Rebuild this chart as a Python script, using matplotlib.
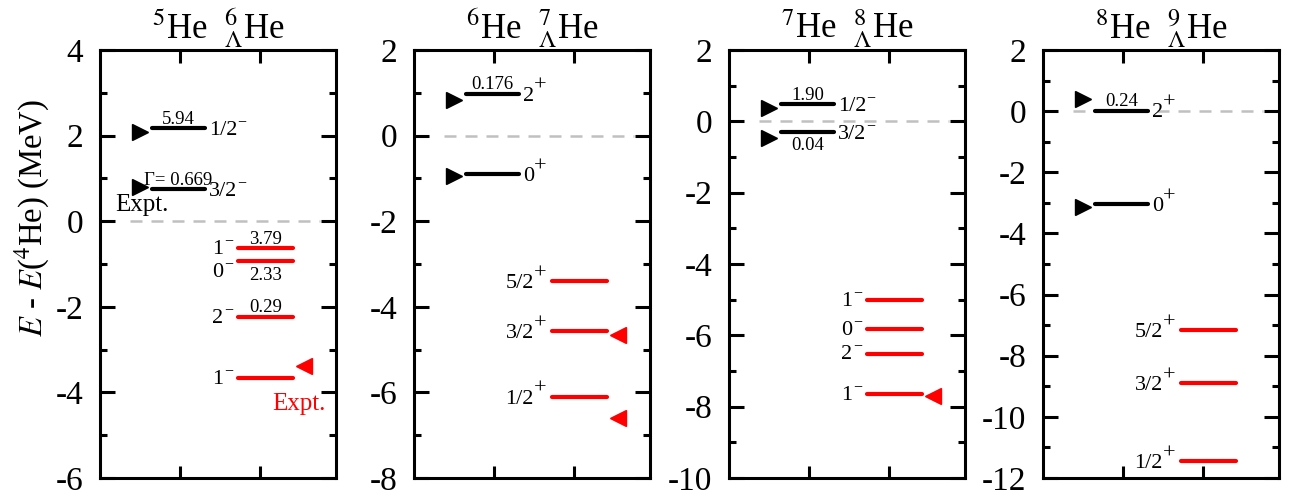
import matplotlib
matplotlib.use("Agg")
import matplotlib.pyplot as plt
from matplotlib.ticker import MultipleLocator

plt.rcParams['font.family'] = ['Liberation Serif', 'DejaVu Serif']
plt.rcParams['mathtext.fontset'] = 'stix'
plt.rcParams['axes.unicode_minus'] = False

# ---------------- data ----------------
core_names = [r"$^{5}$He", r"$^{6}$He", r"$^{7}$He", r"$^{8}$He"]
hyp_names = [r"$^{6}_{\Lambda}$He", r"$^{7}_{\Lambda}$He", r"$^{8}_{\Lambda}$He", r"$^{9}_{\Lambda}$He"]
ylims = [(-6, 4), (-8, 2), (-10, 2), (-12, 2)]

core_E = [[2.18, 0.76], [0.98, -0.90], [0.48, -0.29], [0.02, -3.05]]
core_J = [["1/2", "3/2"], ["2", "0"], ["1/2", "3/2"], ["2", "0"]]
core_P = [["-", "-"], ["+", "+"], ["-", "-"], ["+", "+"]]
core_expt = [[2.09, 0.80], [0.84, -0.94], [0.37, -0.48], [0.41, -3.12]]
core_width = [["5.94", "Γ= 0.669"], ["0.176", ""], ["1.90", "0.04"], ["0.24", ""]]
core_width_pos = [["above", "above"], ["above", ""], ["above", "below"], ["above", ""]]

hyp_E = [[-0.63, -0.94, -2.23, -3.66], [-3.40, -4.57, -6.10],
         [-5.01, -5.83, -6.51, -7.65], [-7.17, -8.90, -11.46]]
hyp_J = [["1", "0", "2", "1"], ["5/2", "3/2", "1/2"],
         ["1", "0", "2", "1"], ["5/2", "3/2", "1/2"]]
hyp_P = [["-", "-", "-", "-"], ["+", "+", "+"], ["-", "-", "-", "-"], ["+", "+", "+"]]
hyp_J_shift = [[0, -7, 0, 0], [0, 0, 0], [0, 0, 0, 0], [0, 0, 0]]
hyp_expt = [[-3.39], [-4.66, -6.60], [-7.71], []]
hyp_width = [["3.79", "2.33", "0.29", ""], ["", "", ""], ["", "", "", ""], ["", "", ""]]
hyp_width_pos = [["above", "below", "above", ""], ["", "", ""], ["", "", "", ""], ["", "", ""]]

# ---------------- layout ----------------
W, H = 1297, 497
fig = plt.figure(figsize=(W / 100, H / 100), dpi=100)
lefts = [100, 414, 729, 1043]
ax_w, ax_top, ax_bot = 236, 50, 478

BL = (0.65, 1.31)   # black level x-extent
RL = (1.72, 2.41)   # red level x-extent
RED = '#ff0000'
JFS = 16


def jlabel(ax, x, y, base, sign, side, dy):
    sfs = JFS if sign == '+' else 11.5
    sch = '+' if sign == '+' else '\u2212'
    rz = 7 if sign == '+' else 6.5
    if side == 'right':
        t = ax.annotate(base, (x, y), xytext=(0, dy), textcoords='offset points',
                        ha='left', va='baseline', fontsize=JFS)
        ax.annotate(sch, xy=(1, 0), xycoords=t, xytext=(0.3, rz), textcoords='offset points',
                    ha='left', va='bottom', fontsize=sfs)
    else:
        s = ax.annotate(sch, (x, y), xytext=(0, dy + rz), textcoords='offset points',
                        ha='right', va='baseline', fontsize=sfs)
        ax.annotate(base, xy=(0, 0), xycoords=s, xytext=(-0.3, -rz), textcoords='offset points',
                    ha='right', va='bottom', fontsize=JFS)


def wlabel(ax, x, y, txt, pos):
    if pos == 'above':
        ax.annotate(txt, (x, y), xytext=(0, 3), textcoords='offset points',
                    ha='center', va='baseline', fontsize=13.5)
    else:
        ax.annotate(txt, (x, y), xytext=(0, -4), textcoords='offset points',
                    ha='center', va='top', fontsize=13.5)


for i in range(4):
    ax = fig.add_axes([lefts[i] / W, (H - ax_bot) / H, ax_w / W, (ax_bot - ax_top) / H])
    ax.set_xlim(0, 2.95)
    ax.set_ylim(*ylims[i])
    ax.yaxis.set_major_locator(MultipleLocator(2))
    ax.yaxis.set_minor_locator(MultipleLocator(1))
    ax.set_xticks([1, 2])
    ax.set_xticklabels([])
    ax.tick_params(axis='x', which='both', direction='in', top=True, bottom=True,
                   length=9, width=2.2)
    ax.tick_params(axis='y', which='major', direction='in', left=True, right=True,
                   length=11, width=2.2, labelsize=24, pad=12)
    ax.tick_params(axis='y', which='minor', direction='in', left=True, right=True,
                   length=5, width=2.2)
    for s in ax.spines.values():
        s.set_linewidth(2.2)

    # threshold dashed line
    ax.plot([0.37, 2.75], [0, 0], color='#c0c0c0', lw=1.8, dashes=(4.8, 3.6), zorder=1)

    # core levels
    for E, J, P, ex, wl, wp in zip(core_E[i], core_J[i], core_P[i], core_expt[i],
                                   core_width[i], core_width_pos[i]):
        ax.plot(BL, [E, E], color='black', lw=3, solid_capstyle='round', zorder=3)
        jlabel(ax, BL[1] + 0.05, E, J, P, 'right', -5)
        ax.plot([0.5], [ex], marker='>', color='black', ms=11, ls='none', zorder=3)
        if wl:
            wlabel(ax, (BL[0] + BL[1]) / 2, E, wl, wp)

    # hypernuclear levels
    for E, J, P, sh, wl, wp in zip(hyp_E[i], hyp_J[i], hyp_P[i], hyp_J_shift[i],
                                   hyp_width[i], hyp_width_pos[i]):
        ax.plot(RL, [E, E], color=RED, lw=3, solid_capstyle='round', zorder=3)
        jlabel(ax, RL[0] - 0.06, E, J, P, 'left', -5 + sh)
        if wl:
            wlabel(ax, (RL[0] + RL[1]) / 2, E, wl, wp)
    for ex in hyp_expt[i]:
        ax.plot([2.55], [ex], marker='<', color=RED, ms=12, ls='none', zorder=3)

    ax.set_title(core_names[i] + "  " + hyp_names[i], fontsize=25, pad=5)

    if i == 0:
        ax.text(0.53, 0.38, "Expt.", ha='center', va='center', fontsize=18)
        ax.text(2.49, -4.27, "Expt.", ha='center', va='center', fontsize=18, color=RED)

fig.text(32 / W, 1 - 218 / H, r"$E$ - $E$($^{4}$He) (MeV)", rotation=90,
         ha='center', va='center', fontsize=23.5)

fig.savefig("out.png", dpi=100)
